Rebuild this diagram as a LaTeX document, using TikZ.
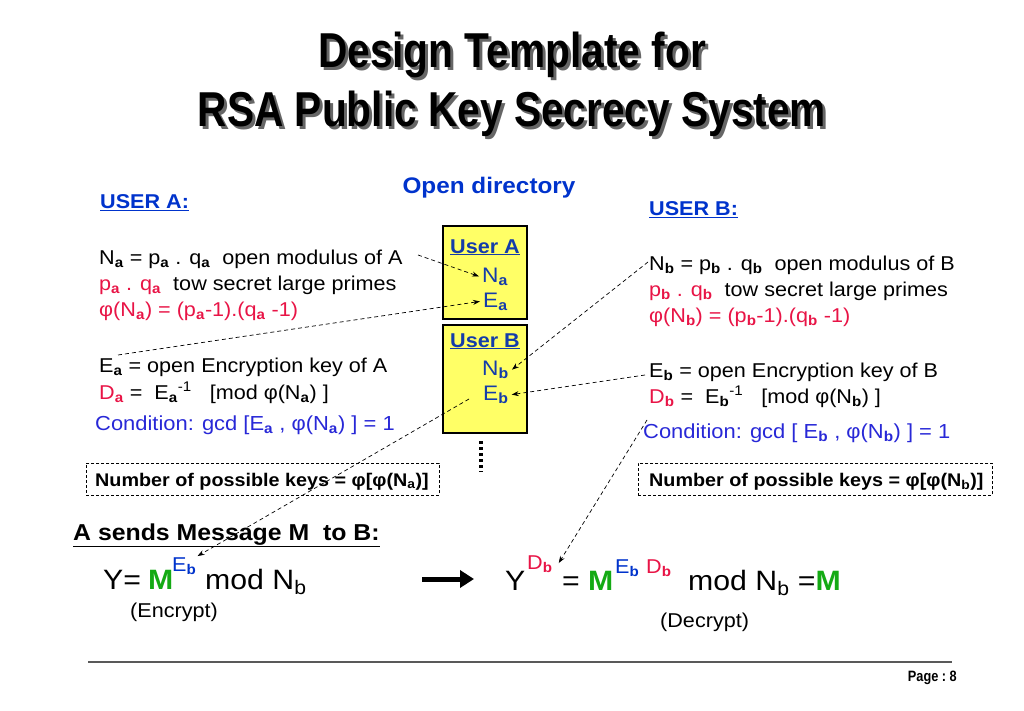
\documentclass[tikz,border=0pt]{standalone}
\usepackage{fontspec}
\setmainfont[FakeStretch=1.08]{Liberation Sans}
\newfontfamily\titlefont[FakeStretch=0.83]{Liberation Sans}
\newfontfamily\pagefont[FakeStretch=0.85]{Liberation Sans}
\usetikzlibrary{arrows.meta}
\definecolor{dblue}{RGB}{0,51,204}
\definecolor{bxblue}{RGB}{20,60,170}
\definecolor{cblue}{RGB}{40,40,215}
\definecolor{kred}{RGB}{232,20,70}
\definecolor{mgreen}{RGB}{20,170,20}
\definecolor{boxyellow}{RGB}{255,255,102}
\newcommand{\bsub}[1]{\textsubscript{\textbf{#1}}}
\newcommand{\phiv}{φ}
\newcommand{\shadowed}[1]{\rlap{\hspace{3pt}\raisebox{-3pt}{\textcolor{black!60}{#1}}}#1}
\begin{document}
\begin{tikzpicture}[x=1pt,y=-1pt,
  txt/.style={anchor=base west, inner sep=0pt, font=\fontsize{20}{24}\selectfont},
  big/.style={anchor=base west, inner sep=0pt, font=\fontsize{28}{32}\selectfont},
  supx/.style={anchor=base west, inner sep=0pt, font=\fontsize{20}{24}\selectfont},
  head/.style={anchor=base west, inner sep=0pt, font=\fontsize{20}{24}\selectfont\bfseries, text=dblue},
  ttl/.style={anchor=base, inner sep=0pt, font=\fontsize{49}{54}\selectfont\titlefont\bfseries},
  ybox/.style={draw=black, line width=2.5pt, fill=boxyellow, minimum width=84pt, inner sep=0pt},
  bxt/.style={anchor=base west, inner sep=0pt, font=\fontsize{21}{24}\selectfont, text=bxblue},
  keybox/.style={draw=black, line width=0.7pt, dash pattern=on 3pt off 2pt, anchor=north west, inner sep=0pt},
  keyt/.style={anchor=base west, inner sep=0pt, font=\fontsize{18.3}{22}\selectfont\bfseries},
  conn/.style={line width=0.7pt, dash pattern=on 4pt off 3pt, -{Stealth[length=7pt,width=5pt]}}
]
\useasboundingbox (0,0) rectangle (1024,711);
% title with shadow
\node[ttl] (t1) at (512,68) {\shadowed{Design Template for}};
\node[ttl] (t2) at (512,127) {\shadowed{RSA Public Key Secrecy System}};

% headings
\node[head, anchor=base, font=\fontsize{22.5}{26}\selectfont\bfseries] (od) at (489,194) {Open directory};
\node[head] (ua) at (100,209) {\underline{USER A:}};
\node[head] (ub) at (649,216) {\underline{USER B:}};

% directory boxes
\node[ybox, minimum height=93pt] (boxA) at (485,272.5) {};
\node[ybox, minimum height=108pt] (boxB) at (485,379) {};
\node[bxt, anchor=base, font=\fontsize{20}{24}\selectfont\bfseries] (bUA) at (485,253) {\underline{User A}};
\node[bxt] (bNa) at (482,282) {N\bsub{a}};
\node[bxt] (bEa) at (483,307) {E\bsub{a}};
\node[bxt, anchor=base, font=\fontsize{20}{24}\selectfont\bfseries] (bUB) at (485,347) {\underline{User B}};
\node[bxt] (bNb) at (482,375) {N\bsub{b}};
\node[bxt] (bEb) at (483,400) {E\bsub{b}};
\draw[line width=3.5pt, dash pattern=on 3pt off 3pt] (481,441) -- (481,472);

% user A
\node[txt] (naL) at (99,264) {N\bsub{a} = p\bsub{a} . q\bsub{a}\ \ open modulus of A};
\node[txt] (paL) at (99,290) {\textcolor{kred}{p\bsub{a} . q\bsub{a}}\ \ tow secret large primes};
\node[txt, text=kred] (phaL) at (99,316) {\phiv(N\bsub{a}) = (p\bsub{a}-1).(q\bsub{a} -1)};
\node[txt] (eaL) at (99,372) {E\bsub{a} = open Encryption key of A};
\node[txt] (daL) at (99,399) {\textcolor{kred}{D\bsub{a}} =\ \ E\bsub{a}\textsuperscript{-1}\ \ \ [mod \phiv(N\bsub{a}) ]};
\node[txt, text=cblue, font=\fontsize{20.3}{24}\selectfont] (caL) at (95,430) {Condition: gcd [E\bsub{a} , \phiv(N\bsub{a}) ] = 1};
\node[keybox, minimum width=353pt, minimum height=32pt] (kA) at (86,463) {};
\node[keyt] (kAt) at (95,486) {Number of possible keys = \phiv[\phiv(N\textsubscript{a})]};

% user B
\node[txt] (nbL) at (649,270) {N\bsub{b} = p\bsub{b} . q\bsub{b}\ \ open modulus of B};
\node[txt] (pbL) at (649,296) {\textcolor{kred}{p\bsub{b} . q\bsub{b}}\ \ tow secret large primes};
\node[txt, text=kred] (phbL) at (649,322) {\phiv(N\bsub{b}) = (p\bsub{b}-1).(q\bsub{b} -1)};
\node[txt] (ebL) at (649,377) {E\bsub{b} = open Encryption key of B};
\node[txt] (dbL) at (649,403) {\textcolor{kred}{D\bsub{b}} =\ \ E\bsub{b}\textsuperscript{-1}\ \ \ [mod \phiv(N\bsub{b}) ]};
\node[txt, text=cblue, font=\fontsize{20.3}{24}\selectfont] (cbL) at (643,438) {Condition: gcd [ E\bsub{b} , \phiv(N\bsub{b}) ] = 1};
\node[keybox, minimum width=354pt, minimum height=32pt] (kB) at (638,463) {};
\node[keyt] (kBt) at (649,486) {Number of possible keys = \phiv[\phiv(N\textsubscript{b})]};

% message
\node[txt, font=\fontsize{23}{26}\selectfont\bfseries] (msg) at (73,540) {\underline{A sends Message M\ \ to B:}};
\node[big] (y1) at (103,589) {Y=};
\node[big, text=mgreen, font=\fontsize{28}{32}\selectfont\bfseries] (m1) at (148,589) {M};
\node[supx, text=dblue] (e1) at (172,571) {E\bsub{b}};
\node[big] (mod1) at (205,589) {mod N\textsubscript{b}};
\node[txt] (enc) at (130,617) {(Encrypt)};

\draw[line width=5pt, -{Triangle[length=14pt,width=17pt]}] (422,579) -- (474,579);

\node[big] (y2) at (505,590) {Y};
\node[supx, text=kred] (d2) at (527,569) {D\bsub{b}};
\node[big] (eq2) at (562,590) {=};
\node[big, text=mgreen, font=\fontsize{28}{32}\selectfont\bfseries] (m2) at (588,590) {M};
\node[supx, text=dblue] (e2) at (615,573) {E\bsub{b}};
\node[supx, text=kred] (d3) at (646,573) {D\bsub{b}};
\node[big] (mod2) at (688,590) {mod N\textsubscript{b} =\textcolor{mgreen}{\textbf{M}}};
\node[txt] (dec) at (660,627) {(Decrypt)};

% footer
\draw[black!65, line width=1.5pt] (88,662) -- (952,662);
\node[anchor=base east, inner sep=0pt, font=\fontsize{15}{17}\selectfont\pagefont\bfseries] (pg) at (957,681) {Page :\ 8};

% connectors
\coordinate (s1) at (418,255);
\coordinate (s2) at (118,355);
\coordinate (s3) at (648,262);
\coordinate (s4) at (645,375);
\coordinate (s5) at (469,399);
\coordinate (s6) at (647,420);
\draw[conn] (s1) -- ([xshift=-3pt]bNa.west);
\draw[conn] (s2) -- ([xshift=-3pt]bEa.west);
\draw[conn] (s3) -- ([xshift=3pt]bNb.east);
\draw[conn] (s4) -- ([xshift=3pt]bEb.east);
\draw[conn] (s5) -- ([xshift=1pt,yshift=1pt]e1.north east);
\draw[conn] (s6) -- ([xshift=6pt,yshift=-8pt]d2.north east);
\end{tikzpicture}
\end{document}
